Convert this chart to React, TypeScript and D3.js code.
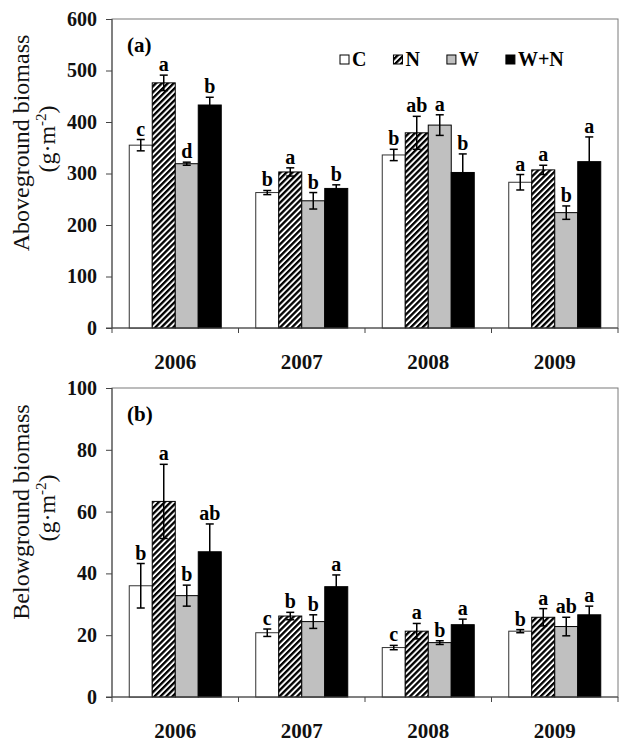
import React, { useEffect, useRef } from "react";
import * as d3 from "d3";

const categories = ["2006", "2007", "2008", "2009"];
const treatments = ["C", "N", "W", "W+N"];

// Aboveground biomass (g·m-2)
const aboveC = [355, 263, 336, 283];
const aboveN = [476, 303, 379, 307];
const aboveW = [319, 247, 394, 224];
const aboveWN = [433, 271, 302, 323];
const aboveErrC = [11, 4, 11, 15];
const aboveErrN = [15, 8, 32, 9];
const aboveErrW = [3, 16, 20, 13];
const aboveErrWN = [15, 7, 36, 48];
const aboveLetC = ["c", "b", "b", "a"];
const aboveLetN = ["a", "a", "ab", "a"];
const aboveLetW = ["d", "b", "a", "b"];
const aboveLetWN = ["b", "b", "b", "a"];
const aboveTicks = [0, 100, 200, 300, 400, 500, 600];

// Belowground biomass (g·m-2)
const belowC = [36.0, 20.8, 16.0, 21.3];
const belowN = [63.3, 26.2, 21.3, 25.8];
const belowW = [32.8, 24.4, 17.6, 22.8];
const belowWN = [47.0, 35.7, 23.4, 26.6];
const belowErrC = [7.2, 1.2, 0.7, 0.5];
const belowErrN = [12, 1.2, 2.5, 2.8];
const belowErrW = [3.4, 2.2, 0.6, 3.0];
const belowErrWN = [9, 3.8, 1.8, 2.8];
const belowLetC = ["b", "c", "c", "b"];
const belowLetN = ["a", "b", "a", "a"];
const belowLetW = ["b", "b", "b", "ab"];
const belowLetWN = ["ab", "a", "a", "a"];
const belowTicks = [0, 20, 40, 60, 80, 100];

const SERIF = "'Liberation Serif', 'Times New Roman', serif";

type Row = { cat: string; tr: string; v: number; e: number; l: string };

function buildRows(vals: number[][], errs: number[][], lets: string[][]): Row[] {
  const rows: Row[] = [];
  categories.forEach((c, i) => {
    treatments.forEach((t, j) => {
      rows.push({ cat: c, tr: t, v: vals[j][i], e: errs[j][i], l: lets[j][i] });
    });
  });
  return rows;
}

const fillFor = (t: string) =>
  t === "C" ? "#ffffff" : t === "N" ? "url(#hatch)" : t === "W" ? "#c0c0c0" : "#000000";

export default function App() {
  const ref = useRef<SVGSVGElement>(null);

  useEffect(() => {
    const svg = d3.select(ref.current);
    svg.selectAll("*").remove();

    const defs = svg.append("defs");
    const pat = defs
      .append("pattern")
      .attr("id", "hatch")
      .attr("patternUnits", "userSpaceOnUse")
      .attr("width", 4.2)
      .attr("height", 4.2)
      .attr("patternTransform", "rotate(45)");
    pat.append("rect").attr("width", 4.2).attr("height", 4.2).attr("fill", "#fff");
    pat.append("rect").attr("width", 2.3).attr("height", 4.2).attr("fill", "#000");

    const left = 112;
    const right = 618;
    const x = d3.scaleBand<string>().domain(categories).range([left, right]).paddingInner(0).paddingOuter(0);
    const xi = d3.scaleBand<string>().domain(treatments).range([0, x.bandwidth()]).paddingInner(0).paddingOuter(0.75);

    const panels = [
      {
        top: 19,
        bottom: 328,
        max: 600,
        ticks: aboveTicks,
        rows: buildRows(
          [aboveC, aboveN, aboveW, aboveWN],
          [aboveErrC, aboveErrN, aboveErrW, aboveErrWN],
          [aboveLetC, aboveLetN, aboveLetW, aboveLetWN]
        ),
        label: "(a)",
        title: "Aboveground biomass",
        titleY: 143,
        legend: true,
      },
      {
        top: 388,
        bottom: 697,
        max: 100,
        ticks: belowTicks,
        rows: buildRows(
          [belowC, belowN, belowW, belowWN],
          [belowErrC, belowErrN, belowErrW, belowErrWN],
          [belowLetC, belowLetN, belowLetW, belowLetWN]
        ),
        label: "(b)",
        title: "Belowground biomass",
        titleY: 512,
        legend: false,
      },
    ];

    panels.forEach((p) => {
      const y = d3.scaleLinear().domain([0, p.max]).range([p.bottom, p.top]);
      const g = svg.append("g");

      // frame
      g.append("rect")
        .attr("x", left)
        .attr("y", p.top)
        .attr("width", right - left)
        .attr("height", p.bottom - p.top)
        .attr("fill", "none")
        .attr("stroke", "#7a7a7a")
        .attr("stroke-width", 1);

      // bars
      const bars = g
        .selectAll("rect.bar")
        .data(p.rows)
        .enter()
        .append("rect")
        .attr("class", "bar")
        .attr("x", (d) => (x(d.cat) as number) + (xi(d.tr) as number))
        .attr("y", (d) => y(d.v))
        .attr("width", xi.bandwidth())
        .attr("height", (d) => p.bottom - y(d.v))
        .attr("fill", (d) => fillFor(d.tr))
        .attr("stroke", (d) => (d.tr === "C" ? "#333" : "#000"))
        .attr("stroke-width", 1);

      // error bars
      const cx = (d: Row) => (x(d.cat) as number) + (xi(d.tr) as number) + xi.bandwidth() / 2;
      const eg = g.selectAll("g.err").data(p.rows).enter().append("g").attr("class", "err");
      eg.append("line")
        .attr("x1", cx)
        .attr("x2", cx)
        .attr("y1", (d) => y(d.v - d.e))
        .attr("y2", (d) => y(d.v + d.e))
        .attr("stroke", "#000")
        .attr("stroke-width", 1.5);
      [1, -1].forEach((s) => {
        eg.append("line")
          .attr("x1", (d) => cx(d) - 4)
          .attr("x2", (d) => cx(d) + 4)
          .attr("y1", (d) => y(d.v + s * d.e))
          .attr("y2", (d) => y(d.v + s * d.e))
          .attr("stroke", "#000")
          .attr("stroke-width", 1.5);
      });

      // letters
      g.selectAll("text.let")
        .data(p.rows)
        .enter()
        .append("text")
        .attr("class", "let")
        .attr("x", cx)
        .attr("y", (d) => y(d.v + d.e) - 4)
        .attr("text-anchor", "middle")
        .attr("font-family", SERIF)
        .attr("font-weight", "bold")
        .attr("font-size", 20)
        .text((d) => d.l);

      // y axis
      const ya = g.append("g").attr("transform", `translate(${left},0)`).call(
        d3.axisLeft(y).tickValues(p.ticks).tickSize(6).tickPadding(9).tickFormat(d3.format("d"))
      );
      ya.select(".domain").attr("stroke", "#444").attr("d", `M0,${p.top}V${p.bottom + 5}`);
      ya.selectAll(".tick line").attr("stroke", "#444");
      ya.selectAll(".tick text")
        .attr("font-family", SERIF)
        .attr("font-weight", "bold")
        .attr("font-size", 20)
        .attr("fill", "#111");

      // x axis
      const xa = g.append("g").attr("transform", `translate(0,${p.bottom})`).call(
        d3.axisBottom(x).tickSize(0).tickPadding(26)
      );
      xa.select(".domain").attr("stroke", "#444").attr("d", `M${left - 6},0H${right}`);
      xa.selectAll(".tick text")
        .attr("font-family", SERIF)
        .attr("font-weight", "bold")
        .attr("font-size", 21)
        .attr("fill", "#111");
      // category separators
      g.selectAll("line.sep")
        .data(categories.slice(1).concat(["end"]))
        .enter()
        .append("line")
        .attr("class", "sep")
        .attr("x1", (d) => (d === "end" ? right : (x(d) as number)))
        .attr("x2", (d) => (d === "end" ? right : (x(d) as number)))
        .attr("y1", p.bottom)
        .attr("y2", p.bottom + 5)
        .attr("stroke", "#444");

      // panel label
      g.append("text")
        .attr("x", left + 15)
        .attr("y", p.top + 33)
        .attr("font-family", SERIF)
        .attr("font-weight", "bold")
        .attr("font-size", 21)
        .text(p.label);

      // axis title
      const t1 = g
        .append("text")
        .attr("transform", `translate(29,${p.titleY}) rotate(-90)`)
        .attr("text-anchor", "middle")
        .attr("font-family", SERIF)
        .attr("font-size", 24)
        .attr("fill", "#111")
        .text(p.title);
      const t2 = g
        .append("text")
        .attr("transform", `translate(55,${p.titleY - 4}) rotate(-90)`)
        .attr("text-anchor", "middle")
        .attr("font-family", SERIF)
        .attr("font-size", 24)
        .attr("fill", "#111");
      t2.append("tspan").text("(g·m");
      t2.append("tspan").attr("font-size", 15).attr("dy", -9).text("-2");
      t2.append("tspan").attr("dy", 9).text(")");

      if (p.legend) {
        const lg = g.append("g");
        let lx = 340;
        treatments.forEach((t) => {
          lg.append("rect")
            .attr("x", lx)
            .attr("y", 55)
            .attr("width", 9)
            .attr("height", 9)
            .attr("fill", t === "N" ? "url(#hatch)" : fillFor(t))
            .attr("stroke", "#000")
            .attr("stroke-width", 1);
          const tx = lg
            .append("text")
            .attr("x", lx + 12)
            .attr("y", 66)
            .attr("font-family", SERIF)
            .attr("font-weight", "bold")
            .attr("font-size", 20)
            .text(t);
          const w = (tx.node() as SVGTextElement).getComputedTextLength();
          lx = lx + 12 + w + 27;
        });
      }
    });
  }, []);

  return (
    <svg
      ref={ref}
      width={625}
      height={749}
      style={{ position: "absolute", left: 0, top: 0, background: "#fff" }}
    />
  );
}
